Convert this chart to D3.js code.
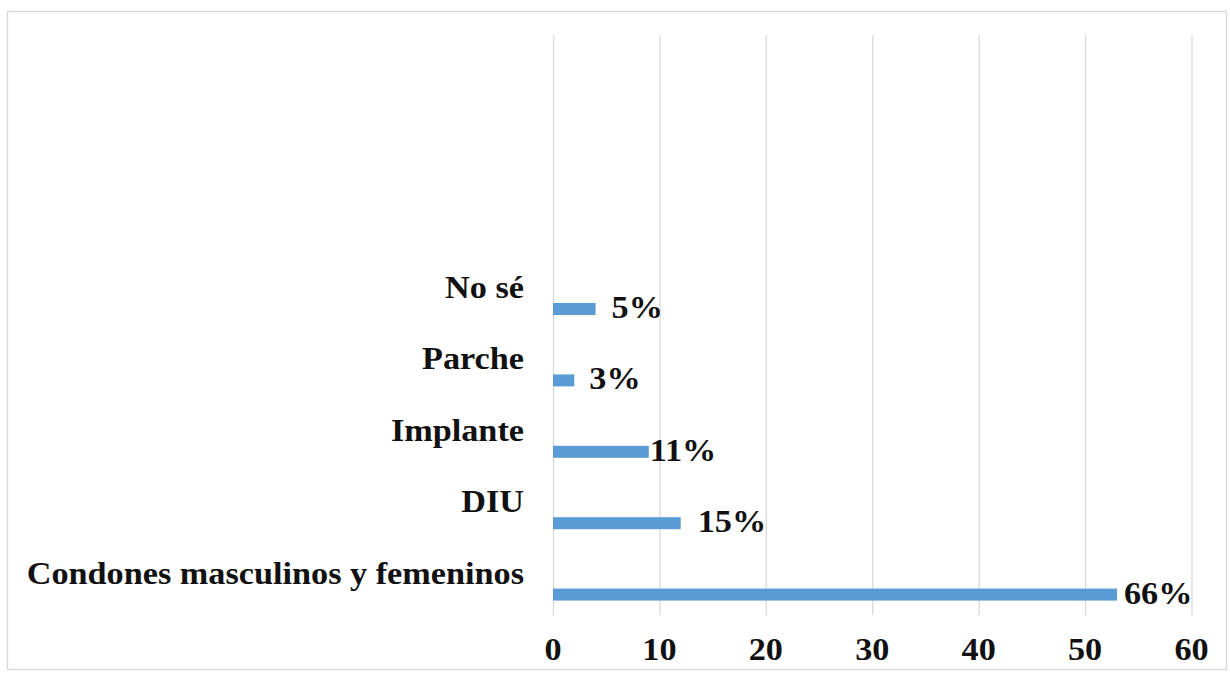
<!DOCTYPE html>
<html>
<head>
<meta charset="utf-8">
<script src="https://cdn.jsdelivr.net/npm/d3@7"></script>
<style>
  html, body { margin: 0; padding: 0; background: #ffffff; }
  svg { display: block; }
  text { font-family: "Liberation Serif", "Times New Roman", serif; font-weight: bold; fill: #111; }
</style>
</head>
<body>
<svg id="chart" width="1230" height="677"></svg>
<script>
// ---- data ----
const categories = ["No sé", "Parche", "Implante", "DIU", "Condones masculinos y femeninos"];
const values = [4, 2, 9, 12, 53];
const valueLabels = ["5%", "3%", "11%", "15%", "66%"];
const xTicks = [0, 10, 20, 30, 40, 50, 60];

// ---- layout ----
const labelNudge = [2, 1, -13, 3, -7];   // small per-label horizontal adjustments (px)
const W = 1230, H = 677;
const svg = d3.select("#chart");

const x = d3.scaleLinear().domain([0, 60]).range([553, 1191.5]);
const y = d3.scaleBand().domain(categories).range([273.3, 630.3]).padding(0);
const gridTop = 35, gridBottom = 615;
const barH = 12;
const sx = 1.07;

// frame
svg.append("rect")
  .attr("x", 7.5).attr("y", 11.5)
  .attr("width", 1219).attr("height", 658)
  .attr("fill", "#fff").attr("stroke", "#d9d9d9").attr("stroke-width", 1.5);

// gridlines via axis
const gx = svg.append("g")
  .attr("transform", `translate(0,${gridBottom})`)
  .call(d3.axisBottom(x).tickValues(xTicks).tickSize(-(gridBottom - gridTop)).tickFormat(""));
gx.select(".domain").remove();
gx.selectAll(".tick line").attr("stroke", "#d9d9d9").attr("stroke-width", 1.3);

// tick labels
svg.append("g").selectAll("text")
  .data(xTicks)
  .join("text")
  .attr("transform", d => `translate(${x(d)},660) scale(${sx},1)`)
  .attr("text-anchor", "middle")
  .style("font-size", "32px")
  .text(d => d);

// bars
const bc = d => y(d) + y.bandwidth() / 2;
svg.append("g").selectAll("rect")
  .data(categories)
  .join("rect")
  .attr("x", x(0))
  .attr("y", d => bc(d) - barH / 2)
  .attr("width", (d, i) => x(values[i]) - x(0))
  .attr("height", barH)
  .attr("fill", "#5b9bd5");

// category labels (sit above the bars)
svg.append("g").selectAll("text")
  .data(categories)
  .join("text")
  .attr("transform", d => `translate(524,${bc(d) - 11}) scale(${sx},1)`)
  .attr("text-anchor", "end")
  .style("font-size", "32px")
  .text(d => d);

// value labels
svg.append("g").selectAll("text")
  .data(categories)
  .join("text")
  .attr("transform", (d, i) => `translate(${x(values[i]) + 14 + labelNudge[i]},${bc(d) + 9}) scale(${sx},1)`)
  .attr("text-anchor", "start")
  .style("font-size", "32px")
  .text((d, i) => valueLabels[i]);
</script>
</body>
</html>
